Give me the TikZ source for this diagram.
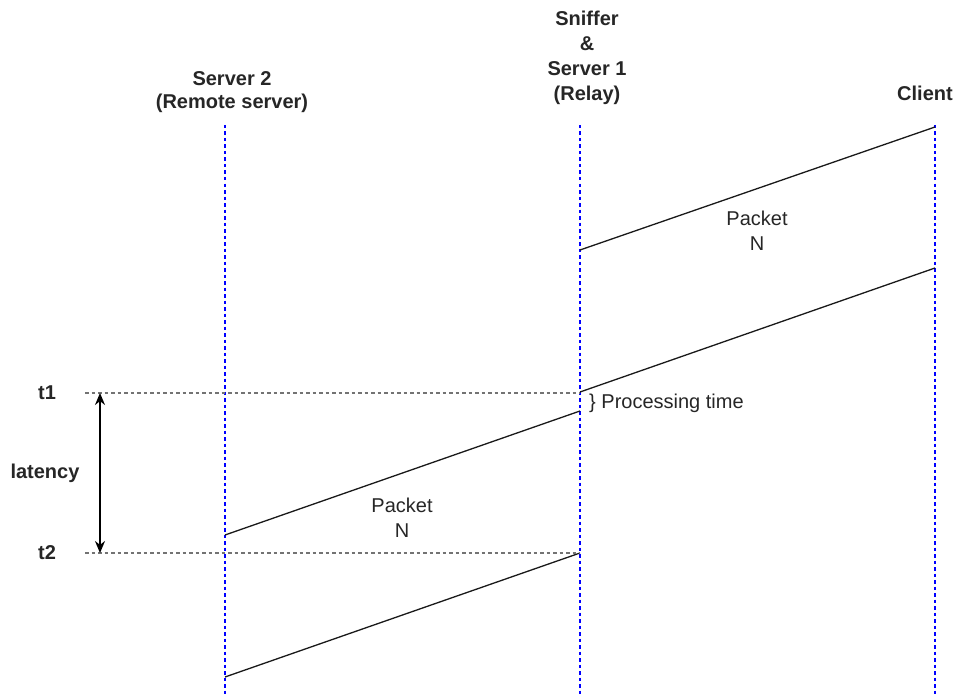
\documentclass[tikz,border=0pt]{standalone}
\usepackage{fontspec}
\setmainfont{Liberation Sans}
\usetikzlibrary{arrows.meta}
\begin{document}
\begin{tikzpicture}[x=1pt,y=-1pt,
  lifeline/.style={draw=blue,line width=1.2pt,dash pattern=on 3.5pt off 3pt},
  timeline/.style={draw=black!55,line width=1.8pt,dash pattern=on 3.5pt off 3pt},
  packet/.style={draw=black!90,line width=1.3pt},
  hdr/.style={font=\fontsize{20}{25}\selectfont\bfseries,text=black!85,align=center,inner sep=0pt},
  hdrtight/.style={hdr,font=\fontsize{20}{22.5}\selectfont\bfseries},
  lbl/.style={font=\fontsize{20}{25}\selectfont,text=black!85,align=center,inner sep=0pt}]
\useasboundingbox (0,0) rectangle (960,695);
% lifelines
\coordinate (s2top) at (225,125); \coordinate (s2bot) at (225,695);
\coordinate (s1top) at (580,125); \coordinate (s1bot) at (580,695);
\coordinate (cltop) at (935,125); \coordinate (clbot) at (935,695);
\draw[lifeline] (s2top) -- (s2bot);
\draw[lifeline] (s1top) -- (s1bot);
\draw[lifeline] (cltop) -- (clbot);
% headers
\node[hdrtight] (h2) at (232,92) {Server 2\\(Remote server)};
\node[hdr] (h1) at (587,58) {Sniffer\\\&\\Server 1\\(Relay)};
\node[hdr] (hc) at (925,93) {Client};
% packets
\coordinate (p1a) at (580,250); \coordinate (p1b) at (935,127);
\coordinate (p2a) at (580,392); \coordinate (p2b) at (935,268);
\coordinate (p3a) at (225,535); \coordinate (p3b) at (580,411);
\coordinate (p4a) at (225,677); \coordinate (p4b) at (580,553);
\draw[packet] (p1a) -- (p1b);
\draw[packet] (p2a) -- (p2b);
\draw[packet] (p3a) -- (p3b);
\draw[packet] (p4a) -- (p4b);
\node[lbl] (pk1) at (757,231) {Packet\\N};
\node[lbl] (pk2) at (402,518) {Packet\\N};
% time marks
\coordinate (t1s) at (85,393); \coordinate (t1e) at (580,393);
\coordinate (t2s) at (85,553); \coordinate (t2e) at (580,553);
\draw[timeline] (t1s) -- (t1e);
\draw[timeline] (t2s) -- (t2e);
\node[hdr] (t1) at (47,393) {t1};
\node[hdr] (t2) at (47,553) {t2};
\node[hdr] (lat) at (45,473) {latency};
\coordinate (a1) at (100,393); \coordinate (a2) at (100,553);
\draw[line width=1.5pt,{Stealth[length=12pt,width=10pt]}-{Stealth[length=12pt,width=10pt]}] (a1) -- (a2);
\node[lbl,anchor=west] (pt) at (589,403) {\} Processing time};
\end{tikzpicture}
\end{document}
